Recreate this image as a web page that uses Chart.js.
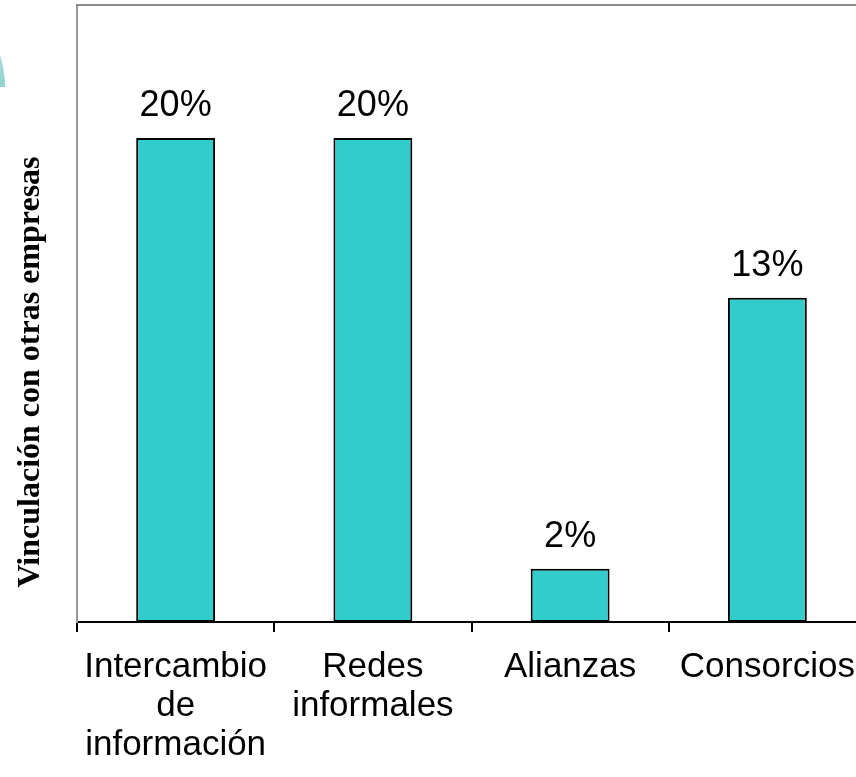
<!DOCTYPE html>
<html>
<head>
<meta charset="utf-8">
<script src="https://cdn.jsdelivr.net/npm/chart.js@4"></script>
<style>
html,body{margin:0;padding:0;background:#fff;overflow:hidden;}
#wrap{position:relative;width:872px;height:777px;}
</style>
</head>
<body>
<div id="wrap"><canvas id="c"></canvas></div>
<script>
const categories = [["Intercambio","de","información"],["Redes","informales"],"Alianzas","Consorcios"];
const values = [20, 20, 2.2, 13.4];
const yTitle = "Vinculación con otras empresas";
const yMax = 25.5;

const deco = {
  id: 'deco',
  beforeDraw(chart) {
    const ctx = chart.ctx;
    ctx.save();
    ctx.beginPath();
    ctx.rect(0, 0, 12, 87);
    ctx.clip();
    const g = ctx.createLinearGradient(0, 30, 0, 87);
    g.addColorStop(0, '#c4e8e6');
    g.addColorStop(1, '#8fd2ce');
    ctx.fillStyle = g;
    ctx.beginPath();
    ctx.ellipse(-40, 87, 45, 70, 0, 0, Math.PI * 2);
    ctx.fill();
    ctx.restore();
  },
  afterDraw(chart) {
    const ctx = chart.ctx;
    const a = chart.chartArea;
    ctx.save();
    ctx.strokeStyle = '#8c8c8c';
    ctx.lineWidth = 2;
    ctx.beginPath();
    ctx.moveTo(a.left - 1, a.top);
    ctx.lineTo(chart.width, a.top);
    ctx.stroke();
    const meta = chart.getDatasetMeta(0);
    ctx.fillStyle = '#000';
    ctx.font = '36px "Liberation Sans", Arial, sans-serif';
    ctx.textAlign = 'center';
    ctx.textBaseline = 'alphabetic';
    meta.data.forEach((bar, i) => {
      ctx.fillText(Math.round(values[i]) + '%', bar.x, bar.y - 22);
    });
    ctx.translate(31, 372);
    ctx.rotate(-Math.PI / 2);
    ctx.font = 'bold 32px "Liberation Serif", "Times New Roman", serif';
    ctx.textBaseline = 'middle';
    ctx.fillText(yTitle, 0, 0);
    ctx.restore();
  }
};

new Chart(document.getElementById('c'), {
  type: 'bar',
  data: {
    labels: categories,
    datasets: [{
      data: values,
      backgroundColor: '#33CCCC',
      borderColor: '#000',
      borderWidth: 2,
      borderSkipped: false,
      categoryPercentage: 1,
      barPercentage: 0.4
    }]
  },
  options: {
    responsive: true,
    maintainAspectRatio: false,
    animation: false,
    events: [],
    layout: { padding: { left: 77, top: 5, right: 6, bottom: 0 } },
    plugins: { legend: { display: false }, tooltip: { enabled: false } },
    scales: {
      x: {
        offset: true,
        grid: { offset: true, display: true, drawOnChartArea: false, drawTicks: true, tickLength: 10, color: '#000', lineWidth: 2 },
        border: { display: true, color: '#000', width: 2 },
        ticks: {
          color: '#000',
          font: { family: '"Liberation Sans", Arial, sans-serif', size: 35, lineHeight: 1.114 },
          padding: 16,
          maxRotation: 0,
          autoSkip: false
        },
        afterFit(s) { s.height = 155; }
      },
      y: {
        min: 0,
        max: yMax,
        ticks: { display: false },
        grid: { display: false, drawTicks: false },
        border: { display: true, color: '#999', width: 2 },
        afterFit(s) { s.width = 0; }
      }
    }
  },
  plugins: [deco]
});
</script>
</body>
</html>
